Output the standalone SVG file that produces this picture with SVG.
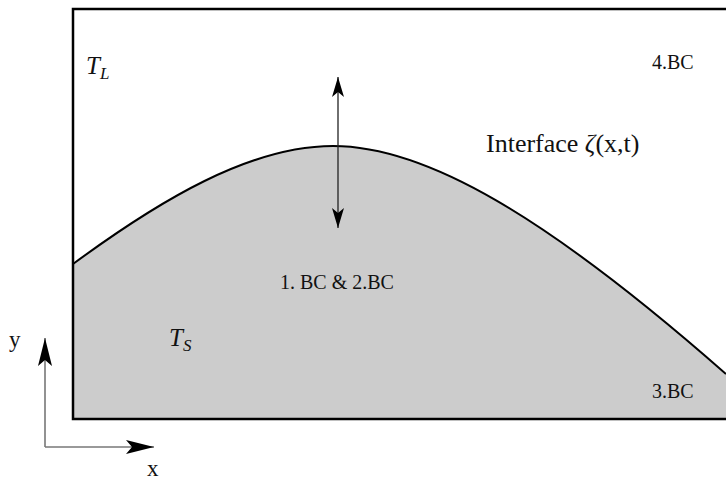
<svg xmlns="http://www.w3.org/2000/svg" width="726" height="483" viewBox="0 0 726 483">
<style>
.t{font-family:"Liberation Serif","Times New Roman",serif;fill:#111;}
.it{font-style:italic;}
.frame{fill:none;stroke:#000;stroke-width:2.5;}
.axis{stroke:#777;stroke-width:1.6;fill:none;}
.arr{stroke:#222;stroke-width:1.3;fill:none;}
</style>
<defs>
<marker id="ah" markerWidth="20" markerHeight="12" refX="20" refY="6" orient="auto" markerUnits="userSpaceOnUse">
<path d="M0,0 L20,6 L0,12 L5,6 Z" fill="#000"/>
</marker>
<marker id="ah2" markerWidth="28" markerHeight="14" refX="28" refY="7" orient="auto" markerUnits="userSpaceOnUse">
<path d="M0,0 L28,7 L0,14 L6,7 Z" fill="#000"/>
</marker>
</defs>
<rect width="726" height="483" fill="#fff"/>
<g id="solid">
<path d="M73,264 C160,200 250,146 333,146 C425,146 545,215 726,374 L726,419 L73,419 Z" fill="#cccccc"/>
<path d="M73,264 C160,200 250,146 333,146 C425,146 545,215 726,374" fill="none" stroke="#000" stroke-width="2"/>
</g>
<g id="frame">
<path class="frame" d="M728,9 L73,9 L73,419 L728,419"/>
</g>
<g id="connectors">
<line class="arr" x1="338" y1="150" x2="338" y2="77" marker-end="url(#ah)"/>
<line class="arr" x1="338" y1="150" x2="338" y2="228" marker-end="url(#ah)"/>
<line class="axis" x1="45" y1="447" x2="45" y2="338" marker-end="url(#ah2)"/>
<line class="axis" x1="45" y1="447" x2="154" y2="447" marker-end="url(#ah2)"/>
</g>
<g id="labels">
<text class="t it" x="86" y="74" font-size="25">T<tspan font-size="17" dy="5">L</tspan></text>
<text class="t it" x="169" y="346" font-size="25">T<tspan font-size="17" dy="5">S</tspan></text>
<text class="t" x="652" y="69" font-size="20">4.BC</text>
<text class="t" x="486" y="152" font-size="26">Interface <tspan class="it">ζ</tspan>(x,t)</text>
<text class="t" x="280" y="289" font-size="20">1. BC &amp; 2.BC</text>
<text class="t" x="652" y="398" font-size="20">3.BC</text>
<text class="t" x="9" y="347" font-size="23">y</text>
<text class="t" x="147" y="476" font-size="23">x</text>
</g>
</svg>
